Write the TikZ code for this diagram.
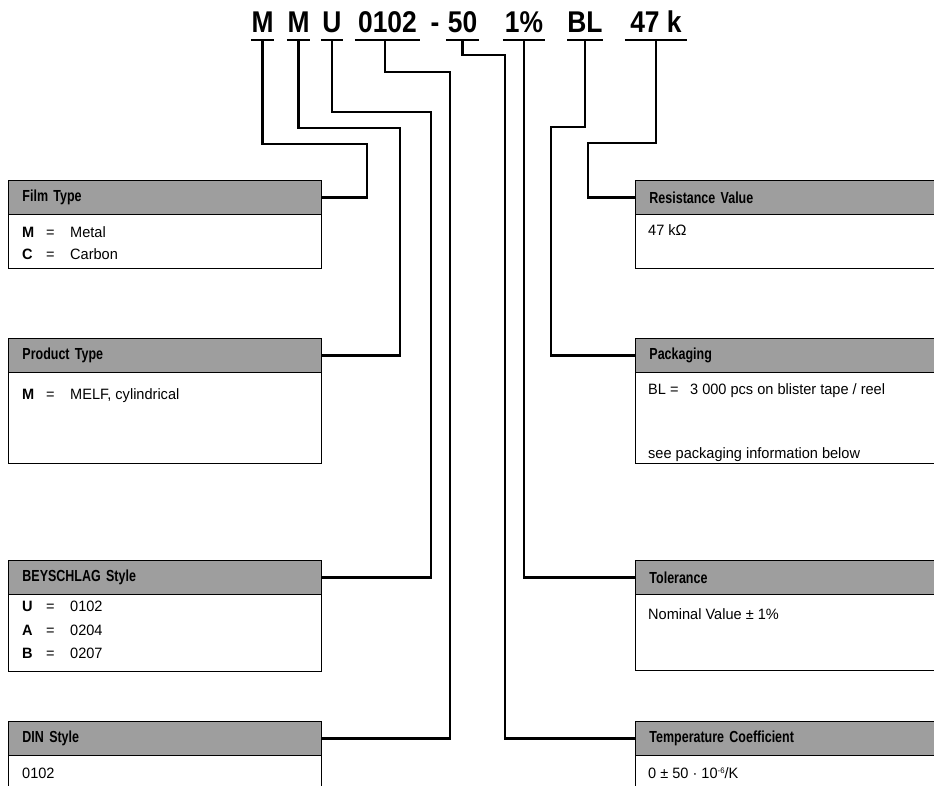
\documentclass[tikz,border=0pt]{standalone}
\usepackage{fontspec}
\setmainfont{Liberation Sans}
\newfontfamily\codefont[FakeStretch=0.88]{Liberation Sans}
\newfontfamily\headfont[FakeStretch=0.78]{Liberation Sans}
\newfontfamily\bodyfont[FakeStretch=0.97]{Liberation Sans}
\tikzset{
  tok/.style={inner sep=0pt, text depth=7pt, anchor=base, font=\codefont\bfseries\fontsize{30}{30}\selectfont},
  uline/.style={line width=2.2pt},
  conn/.style={line width=2.3pt, line join=miter},
  hdr/.style={draw, line width=0.9pt, fill=black!38, minimum height=34pt, anchor=north west,
              inner xsep=14pt, inner ysep=0pt, align=left, font=\headfont\bfseries\fontsize{16}{16}\selectfont},
  lhdr/.style={hdr, minimum width=313pt, text width=285pt},
  rhdr/.style={hdr, minimum width=320pt, text width=292pt},
  bodyb/.style={draw, line width=0.9pt, anchor=north west, inner sep=0pt},
  lbody/.style={bodyb, minimum width=313pt},
  rbody/.style={bodyb, minimum width=320pt},
  txt/.style={anchor=base west, inner sep=0pt, font=\bodyfont\fontsize{15}{15}\selectfont}
}
\newcommand{\eqrow}[2]{\makebox[24pt][l]{\bfseries #1}\makebox[24pt][l]{=}#2}
\begin{document}
\begin{tikzpicture}[x=1pt, y=-1pt]
\useasboundingbox (0,0) rectangle (934,786);
\clip (0,0) rectangle (934,786);
\fill[white] (0,0) rectangle (934,786);

% code tokens
\node[tok, minimum width=23pt] (m1) at (262.5,33) {M};
\node[tok, minimum width=23pt] (m2) at (298.5,33) {M};
\node[tok, minimum width=22pt] (u) at (332,33) {U};
\node[tok, minimum width=65pt] (n0102) at (387.5,33) {0102};
\node[tok] (dash) at (435,33) {-};
\node[tok, minimum width=33pt] (n50) at (462.5,33) {50};
\node[tok, minimum width=42pt] (pc) at (524,33) {1\%};
\node[tok, minimum width=34pt] (bl) at (585,33) {BL};
\node[tok, minimum width=62pt] (r47) at (656,33) {47 k};
\foreach \t in {m1,m2,u,n0102,n50,pc,bl,r47}
  \draw[uline] (\t.south west) -- (\t.south east);

% left boxes
\node[lbody, minimum height=55pt] (filmb) at (8,213) {};
\node[lhdr] (filmh) at (8,180) {Film Type};
\node[txt] (film1) at (22,238) {\eqrow{M}{Metal}};
\node[txt] (film2) at (22,260) {\eqrow{C}{Carbon}};

\node[lbody, minimum height=91pt] (prodb) at (8,372) {};
\node[lhdr] (prodh) at (8,338) {Product Type};
\node[txt] (prod1) at (22,399) {\eqrow{M}{MELF, cylindrical}};

\node[lbody, minimum height=77pt] (beyb) at (8,594) {};
\node[lhdr] (beyh) at (8,560) {BEYSCHLAG Style};
\node[txt] (bey1) at (22,611) {\eqrow{U}{0102}};
\node[txt] (bey2) at (22,635) {\eqrow{A}{0204}};
\node[txt] (bey3) at (22,658) {\eqrow{B}{0207}};

\node[lbody, minimum height=60pt] (dinb) at (8,755) {};
\node[lhdr] (dinh) at (8,721) {DIN Style};
\node[txt] (din1) at (22,778) {0102};

% right boxes
\node[rbody, minimum height=55pt] (resb) at (635,213) {};
\node[rhdr] (resh) at (635,180) {Resistance Value};
\node[txt] (res1) at (648,236) {47 kΩ};

\node[rbody, minimum height=92pt] (packb) at (635,371) {};
\node[rhdr] (packh) at (635,338) {Packaging};
\node[txt] (pack1) at (648,394) {\makebox[22pt][l]{BL}\makebox[20pt][l]{=}3\hspace{4pt}000 pcs on blister tape / reel};
\node[txt] (pack2) at (648,458) {see packaging information below};

\node[rbody, minimum height=77pt] (tolb) at (635,593) {};
\node[rhdr] (tolh) at (635,560) {Tolerance};
\node[txt] (tol1) at (648,619) {Nominal Value ± 1\%};

\node[rbody, minimum height=60pt] (tcb) at (635,754) {};
\node[rhdr] (tch) at (635,721) {Temperature Coefficient};
\node[txt] (tc1) at (648,778) {0 ± 50 · 10\raisebox{5pt}{\fontsize{8}{8}\selectfont -6}/K};

% bends
\coordinate (b1) at (367,144);
\coordinate (b2) at (400,128);
\coordinate (b3) at (431,112);
\coordinate (b4) at (450,72);
\coordinate (b5) at (505,55);
\coordinate (b7) at (551,127);
\coordinate (b8) at (588,143);

% connectors
\draw[conn] (m1.south) |- (b1) |- (filmh.east);
\draw[conn] (m2.south) |- (b2) |- (prodh.east);
\draw[conn] (u.south) |- (b3) |- (beyh.east);
\draw[conn] ([xshift=-2.5pt]n0102.south) |- (b4) |- (dinh.east);
\draw[conn] (n50.south) |- (b5) |- (tch.west);
\draw[conn] (pc.south) |- (tolh.west);
\draw[conn] (bl.south) |- (b7) |- (packh.west);
\draw[conn] (r47.south) |- (b8) |- (resh.west);
\end{tikzpicture}
\end{document}
